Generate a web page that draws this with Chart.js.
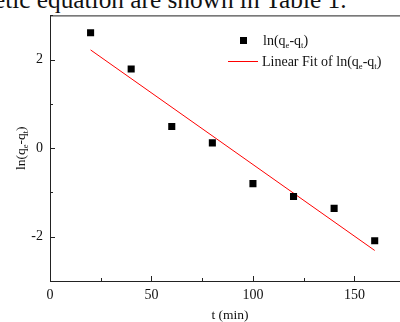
<!DOCTYPE html>
<html>
<head>
<meta charset="utf-8">
<script src="https://cdn.jsdelivr.net/npm/chart.js@4"></script>
<style>
  html, body { margin: 0; padding: 0; background: #fff; }
  #wrap { position: relative; width: 400px; height: 322px; overflow: hidden; }
  #caption {
    position: absolute; left: -6px; top: -16px; white-space: nowrap;
    font-family: "Liberation Serif", serif; font-size: 25.3px; line-height: 30px; color: #111;
  }
  canvas { position: absolute; left: 0; top: 0; }
</style>
</head>
<body>
<div id="wrap">
  <div id="caption">etic equation are shown in Table 1.</div>
  <canvas id="kineticChart" width="400" height="322"></canvas>
</div>
<script>
const times = [20, 40, 60, 80, 100, 120, 140, 160];
const lnValues = [2.61, 1.79, 0.49, 0.12, -0.8, -1.09, -1.36, -2.09];
const fitTimes = [20, 160];
const fitValues = [2.22, -2.31];
const xTicks = [0, 50, 100, 150];
const yTicks = [-2, 0, 2];

const serif = "'Liberation Serif', 'Times New Roman', serif";
const axisColor = "#222";

// text with subscripts like ln(q_e-q_t); draw=false only measures
function drawSubText(c, parts, x, y, size, draw = true) {
  let cx = x;
  parts.forEach((p) => {
    const sub = p.startsWith("_");
    const txt = sub ? p.slice(1) : p;
    c.font = (sub ? size * 0.62 : size) + "px " + serif;
    if (draw) c.fillText(txt, cx, sub ? y + size * 0.22 : y);
    cx += c.measureText(txt).width;
  });
  return cx - x;
}

const lnParts = ["ln(q", "_e", "-q", "_t", ")"];

const framePlugin = {
  id: "frame",
  afterDraw(chart) {
    const c = chart.ctx;
    const a = chart.chartArea;
    const xs = chart.scales.x;
    const ys = chart.scales.y;
    c.save();
    c.strokeStyle = axisColor;
    c.lineWidth = 1;
    c.strokeRect(a.left + 0.5, a.top + 0.5, 420, a.bottom - a.top);

    // inward ticks
    c.beginPath();
    for (let v = 0; v <= 170; v += 25) {
      const px = Math.round(xs.getPixelForValue(v)) + 0.5;
      const len = v % 50 === 0 ? 5 : 3;
      c.moveTo(px, a.bottom);
      c.lineTo(px, a.bottom - len);
    }
    for (let v = -3; v <= 3; v += 1) {
      const py = Math.round(ys.getPixelForValue(v)) + 0.5;
      const len = v % 2 === 0 ? 5 : 3;
      c.moveTo(a.left, py);
      c.lineTo(a.left + len, py);
    }
    c.stroke();

    // axis titles
    c.fillStyle = "#111";
    c.textBaseline = "alphabetic";
    c.font = "13.5px " + serif;
    const xt = "t (min)";
    c.fillText(xt, 230 - c.measureText(xt).width / 2, 319);

    const w = drawSubText(c, lnParts, 0, 0, 13.5, false);
    c.save();
    c.translate(25, (a.top + a.bottom) / 2 + w / 2);
    c.rotate(-Math.PI / 2);
    drawSubText(c, lnParts, 0, 0, 13.5);
    c.restore();

    // legend
    c.fillStyle = "#000";
    c.fillRect(240, 37, 7, 7);
    c.fillStyle = "#111";
    drawSubText(c, lnParts, 263, 45, 14);
    c.strokeStyle = "#ff0000";
    c.beginPath();
    c.moveTo(228, 61.5);
    c.lineTo(258, 61.5);
    c.stroke();
    drawSubText(c, ["Linear Fit of ", ...lnParts], 262, 66, 14);
    c.restore();
  },
};

new Chart(document.getElementById("kineticChart"), {
  type: "scatter",
  data: {
    datasets: [
      {
        label: "ln(qe-qt)",
        data: times.map((t, i) => ({ x: t, y: lnValues[i] })),
        pointStyle: "rect",
        pointRadius: 5,
        borderWidth: 0,
        backgroundColor: "#000",
      },
      {
        label: "Linear Fit of ln(qe-qt)",
        type: "line",
        data: fitTimes.map((t, i) => ({ x: t, y: fitValues[i] })),
        borderColor: "#ff0000",
        borderWidth: 1,
        pointRadius: 0,
        fill: false,
      },
    ],
  },
  options: {
    responsive: false,
    animation: false,
    layout: { padding: { top: 12, right: -4, left: 0, bottom: 0 } },
    scales: {
      x: {
        type: "linear",
        min: 0,
        max: 170,
        afterFit: (s) => { s.height = 41; },
        afterBuildTicks: (s) => { s.ticks = xTicks.map((v) => ({ value: v })); },
        grid: { display: false, drawTicks: false },
        border: { display: false },
        ticks: { padding: 6, color: "#111", font: { family: serif, size: 14 } },
      },
      y: {
        min: -3,
        max: 3,
        afterFit: (s) => { s.width = 50; },
        afterBuildTicks: (s) => { s.ticks = yTicks.map((v) => ({ value: v })); },
        grid: { display: false, drawTicks: false },
        border: { display: false },
        ticks: { padding: 7, color: "#111", font: { family: serif, size: 14 } },
      },
    },
    plugins: {
      legend: { display: false },
      tooltip: { enabled: false },
    },
  },
  plugins: [framePlugin],
});
</script>
</body>
</html>
